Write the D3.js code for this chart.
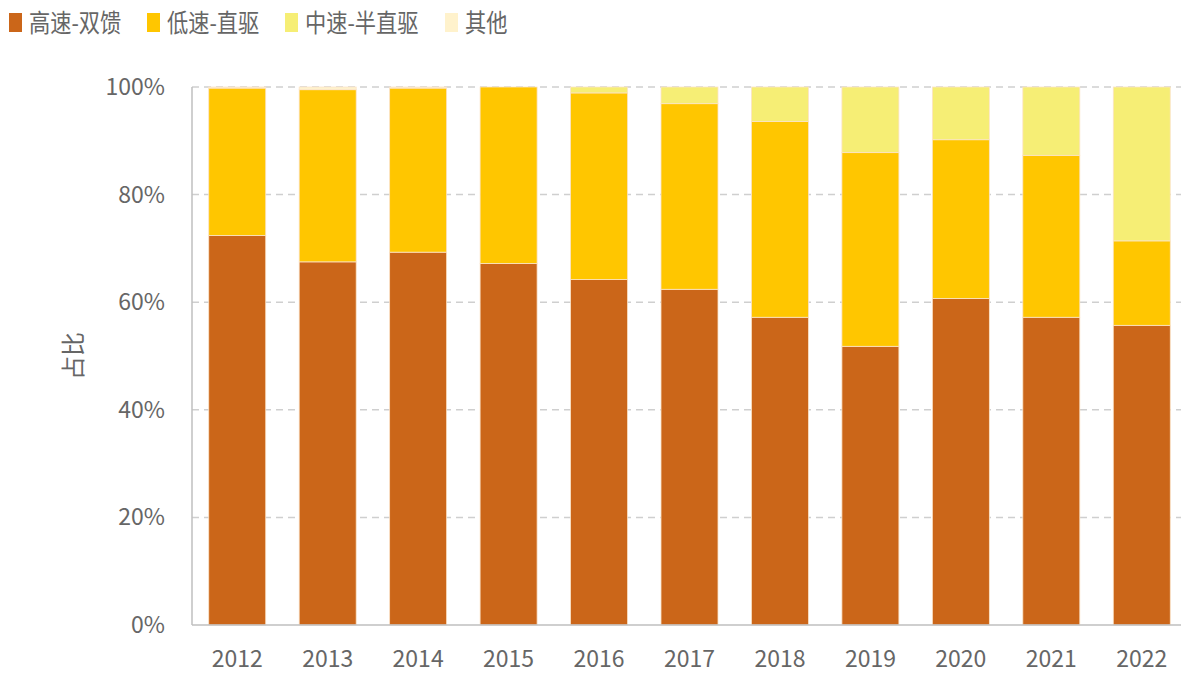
<!DOCTYPE html>
<html>
<head>
<meta charset="utf-8">
<script src="https://cdn.jsdelivr.net/npm/d3@7"></script>
<style>
    body { margin: 0; background: #fff; }
    svg { display: block; font-family: "Noto Sans CJK SC", "Noto Sans", sans-serif; }
</style>
</head>
<body>
<svg id="chart"></svg>
<script>
// Data
const years = ["2012", "2013", "2014", "2015", "2016", "2017", "2018", "2019", "2020", "2021", "2022"];
const seriesNames = ["高速-双馈", "低速-直驱", "中速-半直驱", "其他"];
const highSpeedDFIG = [72.4, 67.5, 69.3, 67.2, 64.2, 62.4, 57.2, 51.8, 60.7, 57.2, 55.7];
const lowSpeedDirect = [27.4, 32.0, 30.5, 32.8, 34.7, 34.5, 36.4, 36.0, 29.5, 30.1, 15.7];
const midSpeedSemi = [0, 0, 0, 0, 1.1, 3.1, 6.4, 12.2, 9.8, 12.7, 28.6];
const others = [0.2, 0.5, 0.2, 0, 0, 0, 0, 0, 0, 0, 0];
const yTicks = [0, 20, 40, 60, 80, 100];
const colors = ["#CB6619", "#FFC600", "#F6EE75", "#FFF2CC"];

const width = 1181;
const height = 675;
const margin = { top: 87, right: -6, bottom: 50, left: 192 };

const svg = d3.select("#chart")
    .attr("width", width)
    .attr("height", height);

const rows = years.map((y, i) => ({
    year: y,
    [seriesNames[0]]: highSpeedDFIG[i],
    [seriesNames[1]]: lowSpeedDirect[i],
    [seriesNames[2]]: midSpeedSemi[i],
    [seriesNames[3]]: others[i]
}));

const stacked = d3.stack().keys(seriesNames)(rows);

const x = d3.scaleBand()
    .domain(years)
    .range([margin.left, width - margin.right])
    .paddingInner(0.37)
    .paddingOuter(0.185);

const y = d3.scaleLinear()
    .domain([0, 100])
    .range([height - margin.bottom, margin.top]);

// Gridlines
svg.append("g")
    .selectAll("line")
    .data(yTicks.filter(d => d > 0))
    .join("line")
    .attr("x1", margin.left)
    .attr("x2", width)
    .attr("y1", d => y(d))
    .attr("y2", d => y(d))
    .attr("stroke", "#cfcfcf")
    .attr("stroke-width", 1.5)
    .attr("stroke-dasharray", "7,5");

// Bars
svg.append("g")
    .selectAll("g")
    .data(stacked)
    .join("g")
    .attr("fill", (d, i) => colors[i])
    .selectAll("rect")
    .data(d => d)
    .join("rect")
    .attr("x", d => x(d.data.year))
    .attr("width", x.bandwidth())
    .attr("y", d => y(d[1]))
    .attr("height", d => Math.max(0, y(d[0]) - y(d[1])))
    .attr("stroke", "#fbe3c8")
    .attr("stroke-width", 0.8);

// Axes lines
svg.append("line")
    .attr("x1", margin.left).attr("x2", margin.left)
    .attr("y1", y(100)).attr("y2", y(0))
    .attr("stroke", "#bfbfbf").attr("stroke-width", 1.5);

svg.append("line")
    .attr("x1", margin.left).attr("x2", width)
    .attr("y1", y(0)).attr("y2", y(0))
    .attr("stroke", "#bfbfbf").attr("stroke-width", 1.5);

// Y tick labels
svg.append("g")
    .selectAll("text")
    .data(yTicks)
    .join("text")
    .attr("x", 165)
    .attr("y", d => y(d))
    .attr("dy", "0.35em")
    .attr("text-anchor", "end")
    .attr("font-size", 23)
    .attr("fill", "#666")
    .text(d => d + "%");

// X tick labels
svg.append("g")
    .selectAll("text")
    .data(years)
    .join("text")
    .attr("x", d => x(d) + x.bandwidth() / 2)
    .attr("y", 667)
    .attr("text-anchor", "middle")
    .attr("font-size", 23)
    .attr("fill", "#666")
    .text(d => d);

// Y axis title
svg.append("text")
    .attr("transform", "translate(82,356) rotate(-90)")
    .attr("text-anchor", "middle")
    .attr("font-size", 24)
    .attr("fill", "#666")
    .text("占比");

// Legend (text is a bit condensed in the original)
const legendX = [9, 147, 285, 445];
const legend = svg.append("g")
    .selectAll("g")
    .data(seriesNames)
    .join("g")
    .attr("transform", (d, i) => `translate(${legendX[i]},0)`);

legend.append("rect")
    .attr("x", 0)
    .attr("y", 13)
    .attr("width", 13)
    .attr("height", 19)
    .attr("fill", (d, i) => colors[i]);

legend.append("text")
    .attr("transform", "translate(20,32) scale(0.85,1)")
    .attr("font-size", 25)
    .attr("fill", "#666")
    .text(d => d);
</script>
</body>
</html>
